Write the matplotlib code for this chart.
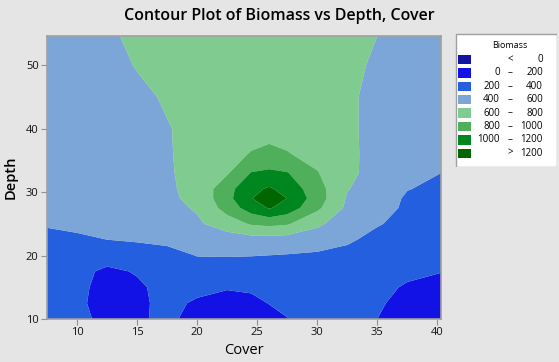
import numpy as np
import matplotlib.pyplot as plt
from matplotlib.patches import Rectangle

plt.rcParams['font.family'] = ['Open Sans', 'DejaVu Sans']

# grid
cover = [7.5, 10, 12.5, 15, 17.5, 20, 22.5, 24.5, 26, 27.5, 30, 32.5, 35, 37.5, 40.3]
depth = [10, 12.5, 15, 17.5, 20, 22.5, 25, 27.5, 29, 30.5, 33, 36, 40, 45, 50, 54.6]

biomass = [
    [300, 250, 150, 180, 230, 150, 100, 120, 150, 195, 260, 260, 200, 130, 100],
    [310, 240, 120, 170, 240, 180, 130, 160, 205, 240, 290, 280, 220, 150, 120],
    [320, 250, 130, 170, 260, 240, 215, 225, 240, 260, 300, 290, 250, 180, 150],
    [340, 260, 160, 215, 300, 320, 300, 300, 310, 320, 330, 320, 290, 240, 205],
    [360, 320, 290, 300, 340, 405, 410, 405, 398, 390, 375, 360, 330, 280, 250],
    [370, 385, 400, 420, 440, 470, 500, 520, 520, 510, 480, 420, 360, 320, 290],
    [410, 420, 440, 460, 500, 570, 700, 820, 850, 820, 640, 480, 410, 360, 330],
    [440, 455, 470, 500, 540, 620, 880, 1100, 1215, 1120, 840, 560, 470, 370, 350],
    [450, 465, 480, 510, 570, 640, 940, 1190, 1340, 1195, 900, 580, 480, 380, 360],
    [455, 470, 490, 520, 575, 650, 930, 1150, 1225, 1130, 880, 610, 490, 405, 370],
    [460, 475, 495, 525, 580, 660, 780, 1010, 1040, 1010, 810, 650, 520, 450, 400],
    [465, 480, 500, 530, 585, 660, 740, 810, 840, 810, 740, 640, 540, 480, 430],
    [465, 480, 500, 540, 590, 650, 700, 730, 740, 730, 700, 630, 550, 500, 470],
    [460, 480, 510, 560, 620, 670, 700, 720, 720, 715, 690, 630, 550, 500, 470],
    [460, 490, 540, 610, 660, 690, 710, 720, 720, 710, 690, 650, 570, 510, 480],
    [470, 510, 570, 640, 680, 700, 715, 720, 720, 715, 700, 670, 600, 530, 490],
]

levels = [-10000, 0, 200, 400, 600, 800, 1000, 1200, 10000]
level_left = ['', '0', '200', '400', '600', '800', '1000', '']
level_mid = ['<', '\u2013', '\u2013', '\u2013', '\u2013', '\u2013', '\u2013', '>']
level_right = ['0', '200', '400', '600', '800', '1000', '1200', '1200']
colors = ['#1313a5', '#1212e6', '#245fe0', '#7ca6d8', '#80cc90', '#4faf5a', '#00861e', '#006600']

bg = '#e5e5e5'
fig = plt.figure(figsize=(5.59, 3.62), dpi=100, facecolor=bg)
ax = fig.add_axes([47/559, 1 - 319/362, (441-47)/559, (319-36)/362])
ax.set_facecolor(bg)

X, Y = np.meshgrid(cover, depth)
ax.contourf(X, Y, np.array(biomass), levels=levels, colors=colors, antialiased=True)

ax.set_xlim(7.5, 40.3)
ax.set_ylim(10, 54.6)
ax.set_xticks([10, 15, 20, 25, 30, 35, 40])
ax.set_yticks([10, 20, 30, 40, 50])
ax.tick_params(labelsize=8, length=4, color='#909090', pad=2, labelcolor='#111111')
for s in ax.spines.values():
    s.set_color('#a0a0a0')
    s.set_linewidth(1.2)

ax.set_xlabel('Cover', fontsize=10.5, labelpad=3)
ax.set_ylabel('Depth', fontsize=10.5, fontweight='semibold', labelpad=6)
fig.text(0.5, 1 - 16/362, 'Contour Plot of Biomass vs Depth, Cover', ha='center', va='center',
         fontsize=11.5, fontweight='semibold')

# legend box drawn in pixel units
lg = fig.add_axes([455/559, 1 - 167/362, 102/559, 134/362])
lg.set_xlim(455, 557)
lg.set_ylim(167, 33)
lg.axis('off')
lg.add_patch(Rectangle((455.5, 33.5), 101, 133, facecolor='white', edgecolor='#a0a0a0', lw=1))
lg.text(510, 45, 'Biomass', ha='center', va='center', fontsize=6.5)
for i, c in enumerate(colors):
    yc = 59.5 + i * 13.4
    lg.add_patch(Rectangle((458, yc - 4.7), 13, 9.4, facecolor=c, edgecolor='none'))
    lg.text(500, yc, level_left[i], ha='right', va='center', fontsize=7)
    lg.text(510, yc, level_mid[i], ha='center', va='center', fontsize=7)
    lg.text(543, yc, level_right[i], ha='right', va='center', fontsize=7)

fig.savefig('out.png', dpi=100, facecolor=bg)
